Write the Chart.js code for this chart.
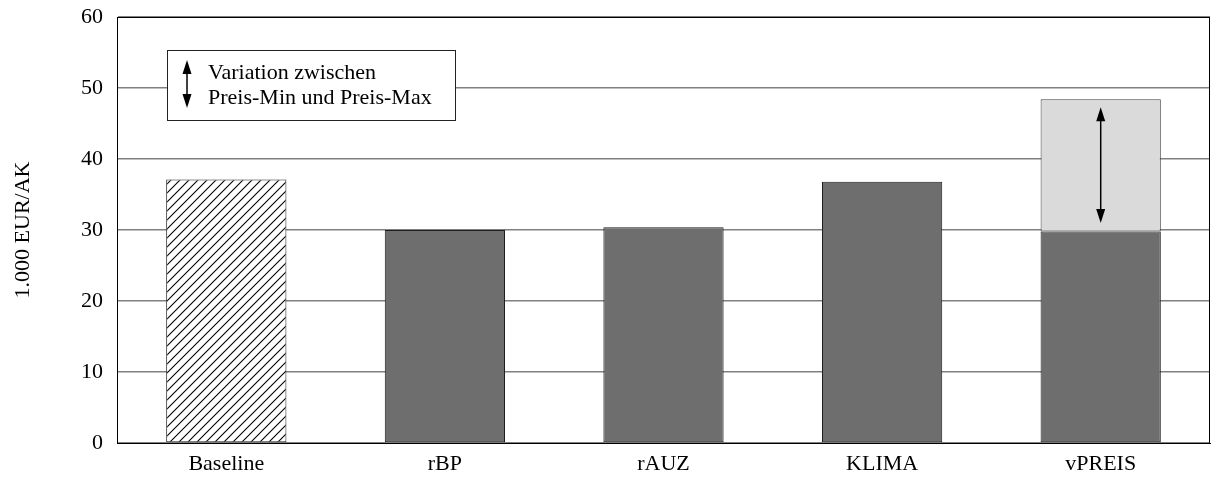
<!DOCTYPE html>
<html>
<head>
<meta charset="utf-8">
<script src="https://cdn.jsdelivr.net/npm/chart.js@4"></script>
<style>
    body { margin: 0; background: #fff; }
    #wrap { width: 1212px; height: 484px; }
</style>
</head>
<body>
<div id="wrap"><canvas id="c" width="1212" height="484"></canvas></div>
<script>
const categories = ["Baseline", "rBP", "rAUZ", "KLIMA", "vPREIS"];
const minValues = [37.1, 30.0, 30.4, 36.8, 29.8];
const maxExtra = [null, null, null, null, 18.6];   // Preis-Max minus Preis-Min
const arrowFrom = [null, null, null, null, 31.0];
const arrowTo = [null, null, null, null, 47.3];
const yTicks = [0, 10, 20, 30, 40, 50, 60];
const legendLines = ["Variation zwischen", "Preis-Min und Preis-Max"];

const FONT = "'Liberation Serif', 'DejaVu Serif', serif";
const FSIZE = 22;

const hatch = (() => {
    const s = 9;
    const cv = document.createElement("canvas");
    cv.width = s; cv.height = s;
    const g = cv.getContext("2d");
    g.fillStyle = "#fff";
    g.fillRect(0, 0, s, s);
    g.strokeStyle = "#000";
    g.lineWidth = 1.1;
    g.beginPath();
    g.moveTo(-1, s + 1); g.lineTo(s + 1, -1);
    g.moveTo(-1, 1); g.lineTo(1, -1);
    g.moveTo(s - 1, s + 1); g.lineTo(s + 1, s - 1);
    g.stroke();
    return g.createPattern(cv, "repeat");
})();

const drawArrow = (ctx, x, y1, y2) => {
    // y1 bottom, y2 top (pixels)
    const hw = 4.5, hh = 14;
    ctx.save();
    ctx.strokeStyle = "#000";
    ctx.fillStyle = "#000";
    ctx.lineWidth = 1.5;
    ctx.beginPath();
    ctx.moveTo(x, y1 - hh + 2);
    ctx.lineTo(x, y2 + hh - 2);
    ctx.stroke();
    ctx.beginPath();
    ctx.moveTo(x, y2); ctx.lineTo(x - hw, y2 + hh); ctx.lineTo(x + hw, y2 + hh); ctx.closePath();
    ctx.fill();
    ctx.beginPath();
    ctx.moveTo(x, y1); ctx.lineTo(x - hw, y1 - hh); ctx.lineTo(x + hw, y1 - hh); ctx.closePath();
    ctx.fill();
    ctx.restore();
};

const extras = {
    id: "extras",
    afterDatasetsDraw(chart) {
        const ctx = chart.ctx;
        const xs = chart.scales.x, ys = chart.scales.y;
        const area = chart.chartArea;

        // frame
        ctx.save();
        ctx.strokeStyle = "#000";
        ctx.lineWidth = 1;
        ctx.strokeRect(Math.round(area.left) + 0.5, Math.round(area.top) + 0.5,
            Math.round(area.right - area.left) - 1, Math.round(area.bottom - area.top));
        ctx.restore();

        // arrows in bars
        categories.forEach((c, i) => {
            if (arrowFrom[i] == null) return;
            const x = xs.getPixelForValue(i);
            drawArrow(ctx, x, ys.getPixelForValue(arrowFrom[i]), ys.getPixelForValue(arrowTo[i]));
        });

        // legend box
        const bx = area.left + 50, by = area.top + 33, bw = 288, bh = 70;
        ctx.save();
        ctx.fillStyle = "#fff";
        ctx.fillRect(bx, by, bw, bh);
        ctx.strokeStyle = "#222";
        ctx.lineWidth = 1;
        ctx.strokeRect(Math.round(bx) + 0.5, Math.round(by) + 0.5, bw, bh);
        drawArrow(ctx, bx + 20, by + 58, by + 10);
        ctx.fillStyle = "#000";
        ctx.font = FSIZE + "px " + FONT;
        ctx.textBaseline = "middle";
        ctx.textAlign = "left";
        ctx.fillText(legendLines[0], bx + 41, by + 23);
        ctx.fillText(legendLines[1], bx + 41, by + 48);
        ctx.restore();
    }
};

new Chart(document.getElementById("c"), {
    type: "bar",
    data: {
        labels: categories,
        datasets: [{
            label: "Preis-Min",
            data: minValues,
            backgroundColor: categories.map((c, i) => i === 0 ? hatch : "#6e6e6e"),
            borderColor: "#1e1e1e",
            borderWidth: 1,
            borderSkipped: false,
            barPercentage: 0.55,
            categoryPercentage: 1
        }, {
            label: "Preis-Max",
            data: maxExtra,
            backgroundColor: "#dadada",
            borderColor: "#444",
            borderWidth: 1,
            borderSkipped: false,
            barPercentage: 0.55,
            categoryPercentage: 1
        }]
    },
    options: {
        responsive: false,
        animation: false,
        layout: { padding: { left: 0, right: 2, top: 17, bottom: 0 } },
        scales: {
            x: {
                stacked: true,
                grid: { display: false, drawTicks: false },
                border: { color: "#000" },
                ticks: { color: "#000", font: { family: FONT, size: FSIZE }, padding: 8 },
                afterFit: (axis) => { axis.height = 41; axis.paddingLeft = 0; axis.paddingRight = 0; }
            },
            y: {
                stacked: true,
                min: 0,
                max: 60,
                afterFit: (axis) => { axis.width = 117; axis.paddingTop = 0; axis.paddingBottom = 0; },
                afterBuildTicks: (axis) => { axis.ticks = yTicks.map(v => ({ value: v })); },
                grid: { color: "#808080", lineWidth: 1.5, drawTicks: false },
                border: { color: "#000" },
                ticks: { color: "#000", font: { family: FONT, size: FSIZE }, padding: 14 },
                title: {
                    display: true,
                    text: "1.000 EUR/AK",
                    color: "#000",
                    font: { family: FONT, size: FSIZE },
                    padding: { top: 10, bottom: 20 }
                }
            }
        },
        plugins: {
            legend: { display: false },
            tooltip: { enabled: false }
        }
    },
    plugins: [extras]
});
</script>
</body>
</html>
